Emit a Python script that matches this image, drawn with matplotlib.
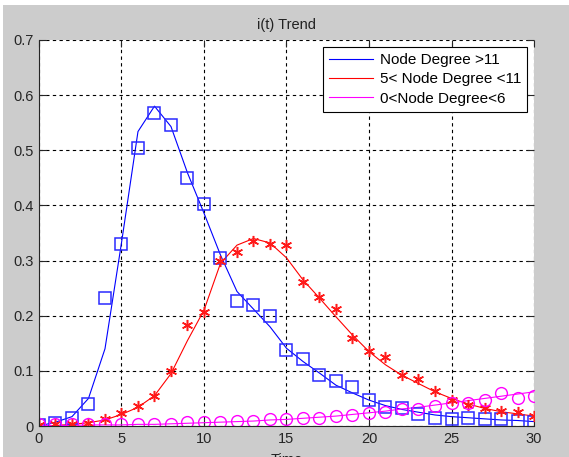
import numpy as np
import matplotlib.pyplot as plt
from matplotlib.patches import Rectangle

plt.rcParams['font.family'] = ['Liberation Sans', 'DejaVu Sans']

t = np.arange(0, 31)

# simulated / fitted curves (lines)
high_line = [0.0, 0.007, 0.017, 0.05, 0.14, 0.332, 0.534, 0.58, 0.543, 0.459, 0.386,
             0.31, 0.244, 0.212, 0.18, 0.141, 0.117, 0.096, 0.074, 0.06, 0.047,
             0.037, 0.03, 0.025, 0.02, 0.017, 0.015, 0.013, 0.011, 0.01, 0.008]
mid_line = [0.0, 0.001, 0.003, 0.006, 0.011, 0.021, 0.034, 0.055, 0.095, 0.155, 0.21,
            0.295, 0.328, 0.34, 0.332, 0.305, 0.265, 0.232, 0.198, 0.165, 0.135,
            0.111, 0.092, 0.077, 0.062, 0.05, 0.04, 0.032, 0.026, 0.022, 0.018]
low_line = [0.001, 0.001, 0.001, 0.002, 0.002, 0.002, 0.003, 0.003, 0.004, 0.005, 0.006,
            0.007, 0.008, 0.009, 0.011, 0.012, 0.014, 0.016, 0.018, 0.021, 0.024,
            0.027, 0.031, 0.034, 0.038, 0.042, 0.046, 0.05, 0.054, 0.058, 0.062]

# observed points (markers)
high_pts = [0.002, 0.005, 0.015, 0.04, 0.233, 0.33, 0.505, 0.567, 0.545, 0.45, 0.402,
            0.305, 0.227, 0.219, 0.199, 0.137, 0.121, 0.092, 0.082, 0.07, 0.047,
            0.035, 0.033, 0.021, 0.014, 0.012, 0.014, 0.013, 0.012, 0.009, 0.007]
mid_pts = [0.002, 0.003, 0.004, 0.006, 0.013, 0.023, 0.036, 0.055, 0.1, 0.184, 0.207,
           0.3, 0.315, 0.336, 0.33, 0.328, 0.262, 0.234, 0.212, 0.159, 0.136,
           0.126, 0.092, 0.085, 0.064, 0.047, 0.038, 0.033, 0.027, 0.026, 0.018]
low_pts = [0.003, 0.003, 0.003, 0.003, 0.003, 0.003, 0.003, 0.003, 0.003, 0.007, 0.007,
           0.008, 0.009, 0.01, 0.012, 0.012, 0.015, 0.015, 0.019, 0.02, 0.024,
           0.026, 0.031, 0.03, 0.036, 0.041, 0.042, 0.048, 0.06, 0.05, 0.055]

labels = ['Node Degree >11', '5< Node Degree <11', '0<Node Degree<6']
colors = ['#0000ff', '#ff0000', '#ff00ff']

fig = plt.figure(figsize=(5.69, 4.57), dpi=100, facecolor='#cccccc')
# white strip left/top from the screenshot
fig.patches.append(Rectangle((0, 0), 0.006, 1, transform=fig.transFigure,
                             facecolor='white', edgecolor='none', zorder=-1))
fig.patches.append(Rectangle((0, 0.99), 1, 0.01, transform=fig.transFigure,
                             facecolor='white', edgecolor='none', zorder=-1))
ax = fig.add_axes([0.0685, 0.0678, 0.87, 0.8447])

ax.plot(t, high_line, color=colors[0], lw=0.8, label=labels[0])
ax.plot(t, mid_line, color=colors[1], lw=0.8, label=labels[1])
ax.plot(t, low_line, color=colors[2], lw=0.8, label=labels[2])
ax.plot(t, high_pts, ls='none', marker='s', ms=8.5, mfc='none', mec='#2a2aff', mew=1.1)
ax.plot(t, mid_pts, ls='none', marker=(6, 2, 0), ms=8, mec='#ff1a1a', mew=1.1)
ax.plot(t, low_pts, ls='none', marker='o', ms=8.5, mfc='none', mec=colors[2], mew=1.0)

ax.set_xlim(0, 30)
ax.set_ylim(0, 0.7)
ax.set_xticks(np.arange(0, 31, 5))
ax.set_yticks(np.arange(0, 0.71, 0.1))
ax.set_yticklabels(['0', '0.1', '0.2', '0.3', '0.4', '0.5', '0.6', '0.7'])
ax.grid(True, color='black', ls=(0, (3, 3)), lw=0.8)
ax.set_axisbelow(True)
for s in ['top', 'right']:
    ax.spines[s].set_visible(False)
for s in ['left', 'bottom']:
    ax.spines[s].set_color('#262626')
    ax.spines[s].set_linewidth(0.8)
ax.tick_params(direction='in', length=5, width=0.8, top=True, right=True,
               labelsize=10.5, colors='#262626', pad=4)

ax.set_title('i(t) Trend', fontsize=10.5, color='#222222', pad=8)
ax.set_xlabel('Time', fontsize=10.5, color='#222222', labelpad=5)

leg = ax.legend(loc='upper right', bbox_to_anchor=(0.986, 0.982), fontsize=11,
                fancybox=False, framealpha=1, edgecolor='black', handlelength=2.9,
                handletextpad=0.4, labelspacing=0.35, borderpad=0.4, borderaxespad=0)
leg.get_frame().set_linewidth(0.8)

fig.savefig('out.png', dpi=100, facecolor=fig.get_facecolor())
